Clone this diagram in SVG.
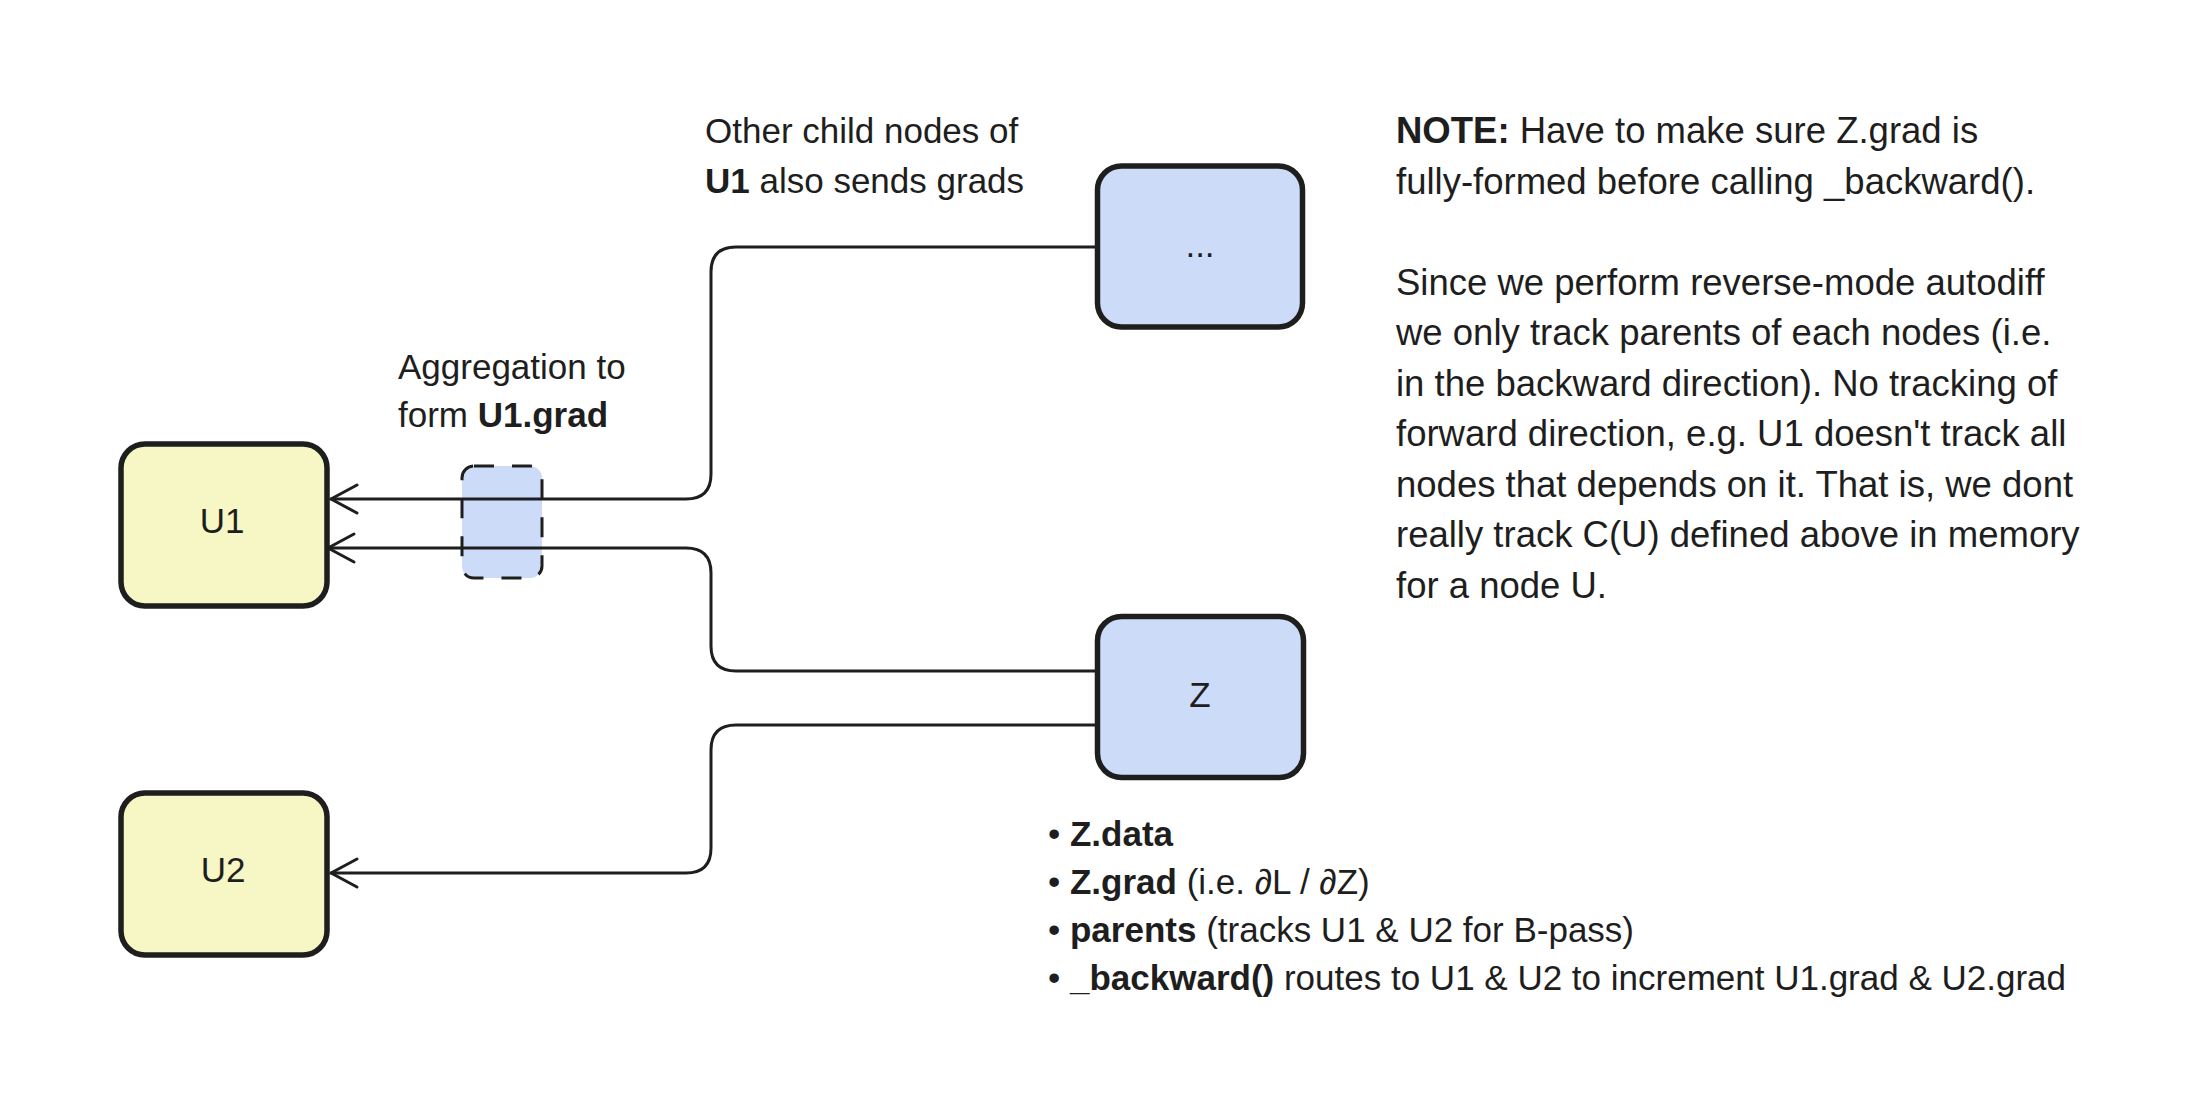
<svg xmlns="http://www.w3.org/2000/svg" width="2196" height="1116" viewBox="0 0 2196 1116">
<style>
.box{stroke:#1e1e1e;stroke-width:5.5;stroke-linejoin:round}
.yel{fill:#f7f6c5}
.blu{fill:#ccdcf8}
.con{fill:none;stroke:#1e1e1e;stroke-width:3;stroke-linecap:round;stroke-linejoin:round}
.t{font-family:"Liberation Sans",Arial,Helvetica,sans-serif;fill:#1e1e1e}
.lbl{font-size:35px}
.note{font-size:36.5px}
.bul{font-size:35px}
.b{font-weight:bold}
.c{text-anchor:middle}
</style>
<defs>
<marker id="arr" markerUnits="userSpaceOnUse" markerWidth="40" markerHeight="40" viewBox="-34 -20 40 40" refX="0" refY="0" orient="auto">
<path d="M-26 -14 L0 0 L-26 14" fill="none" stroke="#1e1e1e" stroke-width="3" stroke-linecap="round" stroke-linejoin="round"/>
</marker>
</defs>
<rect width="2196" height="1116" fill="#ffffff"/>

<g id="aggregation">
<rect x="462" y="466" width="80" height="112" rx="12" fill="#ccdcf8" stroke="#1e1e1e" stroke-width="3" stroke-dasharray="20 18"/>
</g>

<g id="node-U1">
<rect class="box yel" x="121" y="444" width="206" height="162" rx="24"/>
<text class="t lbl c" x="222" y="533">U1</text>
</g>

<g id="node-U2">
<rect class="box yel" x="121" y="793" width="206" height="162" rx="24"/>
<text class="t lbl c" x="223" y="882">U2</text>
</g>

<g id="node-dots">
<rect class="box blu" x="1097.5" y="166" width="205" height="161" rx="24"/>
<text class="t lbl c" x="1200" y="257">...</text>
</g>

<g id="node-Z">
<rect class="box blu" x="1097.5" y="616.5" width="206" height="161" rx="24"/>
<text class="t lbl c" x="1200" y="707">Z</text>
</g>

<g id="connectors">
<path class="con" d="M1097 247 L736 247 Q711 247 711 272 L711 474 Q711 499 686 499 L331 499" marker-end="url(#arr)"/>
<path class="con" d="M1097 671 L736 671 Q711 671 711 646 L711 573 Q711 548 686 548 L328 548" marker-end="url(#arr)"/>
<path class="con" d="M1097 725 L736 725 Q711 725 711 750 L711 848 Q711 873 686 873 L331 873" marker-end="url(#arr)"/>
</g>

<g id="label-other">
<text class="t lbl" x="705" y="143">Other child nodes of</text>
<text class="t lbl" x="705" y="193"><tspan class="b">U1</tspan> also sends grads</text>
</g>

<g id="label-aggregation">
<text class="t lbl" x="398" y="379">Aggregation to</text>
<text class="t lbl" x="398" y="427">form <tspan class="b">U1.grad</tspan></text>
</g>

<g id="note">
<text class="t note" x="1396" y="143"><tspan class="b">NOTE:</tspan> Have to make sure Z.grad is</text>
<text class="t note" x="1396" y="193.5">fully-formed before calling _backward().</text>
<text class="t note" x="1396" y="294.5">Since we perform reverse-mode autodiff</text>
<text class="t note" x="1396" y="345">we only track parents of each nodes (i.e.</text>
<text class="t note" x="1396" y="395.5">in the backward direction). No tracking of</text>
<text class="t note" x="1396" y="446">forward direction, e.g. U1 doesn't track all</text>
<text class="t note" x="1396" y="496.5">nodes that depends on it. That is, we dont</text>
<text class="t note" x="1396" y="547">really track C(U) defined above in memory</text>
<text class="t note" x="1396" y="597.5">for a node U.</text>
</g>

<g id="z-attributes">
<text class="t bul" x="1048" y="845.5">• <tspan class="b">Z.data</tspan></text>
<text class="t bul" x="1048" y="893.7">• <tspan class="b">Z.grad</tspan> (i.e. ∂L / ∂Z)</text>
<text class="t bul" x="1048" y="942">• <tspan class="b">parents</tspan> (tracks U1 &amp; U2 for B-pass)</text>
<text class="t bul" x="1048" y="990">• <tspan class="b">_backward()</tspan> routes to U1 &amp; U2 to increment U1.grad &amp; U2.grad</text>
</g>
</svg>
